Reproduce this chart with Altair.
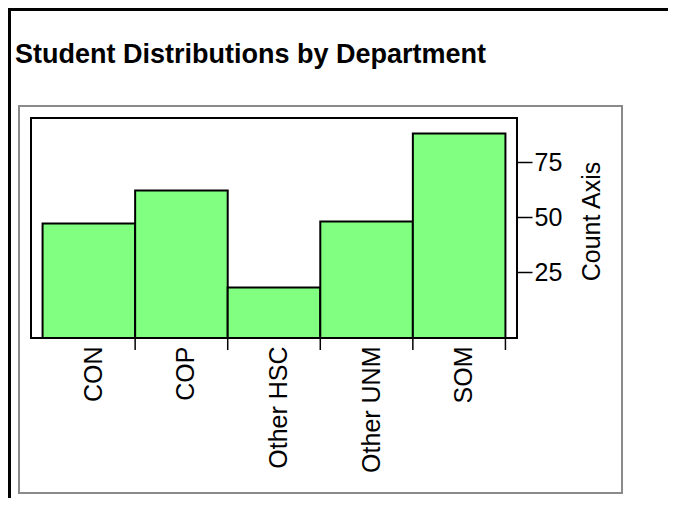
import altair as alt
import pandas as pd

# ---- data ----
departments = ["CON", "COP", "Other HSC", "Other UNM", "SOM"]
counts = [47, 62, 18, 48, 88]
y_tick_values = [25, 50, 75]
y_domain = [-5, 95]
chart_title = "Student Distributions by Department"
y_axis_title = "Count Axis"

FONT = "Liberation Sans"
W, H = 486, 220

df = pd.DataFrame({"dept": departments, "count": counts})

xscale = alt.Scale(domain=departments, paddingInner=0, paddingOuter=0.125)
yscale = alt.Scale(domain=y_domain, nice=False, zero=False)

x_axis = alt.Axis(
    title=None, labelAngle=270, ticks=False, domain=False,
    labelFontSize=25, labelFont=FONT, labelColor="black",
    labelPadding=8, labelOffset=5, grid=False,
)

bars = alt.Chart(df).mark_bar(
    color="#80ff80", stroke="black", strokeWidth=2
).encode(
    x=alt.X("dept:N", scale=xscale, sort=departments, axis=x_axis),
    y=alt.Y(
        "count:Q", scale=yscale,
        axis=alt.Axis(
            orient="right", values=y_tick_values, title=y_axis_title,
            domain=False, grid=False, tickColor="black", tickWidth=1.5,
            tickSize=15, labelFontSize=25, labelFont=FONT, labelColor="black",
            labelPadding=2, titleFont=FONT, titleFontSize=25,
            titleFontWeight="normal", titleColor="black", titleAngle=270,
            titleX=74, titleY=103, titleAlign="center", titleBaseline="middle",
        ),
    ),
    y2=alt.datum(y_domain[0]),
)

tick_marks = alt.Chart(df).mark_rule(color="black", strokeWidth=1.5).encode(
    x=alt.X("dept:N", scale=xscale, sort=departments, bandPosition=1, axis=x_axis),
    y=alt.value(H),
    y2=alt.value(H + 12),
)

one = alt.Data(values=[{"t": chart_title}])

gray_frame = alt.Chart(one).mark_rect(
    fill="transparent", stroke="#8a8a8a", strokeWidth=2
).encode(
    x=alt.value(-12), x2=alt.value(591), y=alt.value(-12), y2=alt.value(375)
)

top_border = alt.Chart(one).mark_rect(color="black").encode(
    x=alt.value(-23), x2=alt.value(640), y=alt.value(-110), y2=alt.value(-107)
)
left_border = alt.Chart(one).mark_rect(color="black").encode(
    x=alt.value(-23), x2=alt.value(-20), y=alt.value(-110), y2=alt.value(380)
)

title_mark = alt.Chart(one).mark_text(
    align="left", baseline="alphabetic", font=FONT, fontSize=27,
    fontWeight="bold", color="black"
).encode(
    x=alt.value(-16), y=alt.value(-55), text="t:N"
)

chart = alt.layer(
    top_border, left_border, gray_frame, bars, tick_marks, title_mark
).properties(
    width=W, height=H,
    autosize=alt.AutoSizeParams(type="none"),
    padding={"left": 23, "top": 110, "right": 151, "bottom": 160},
).configure_view(
    stroke="black", strokeWidth=2
)

chart.save("out.html", embed_options={"renderer": "svg", "actions": False})
